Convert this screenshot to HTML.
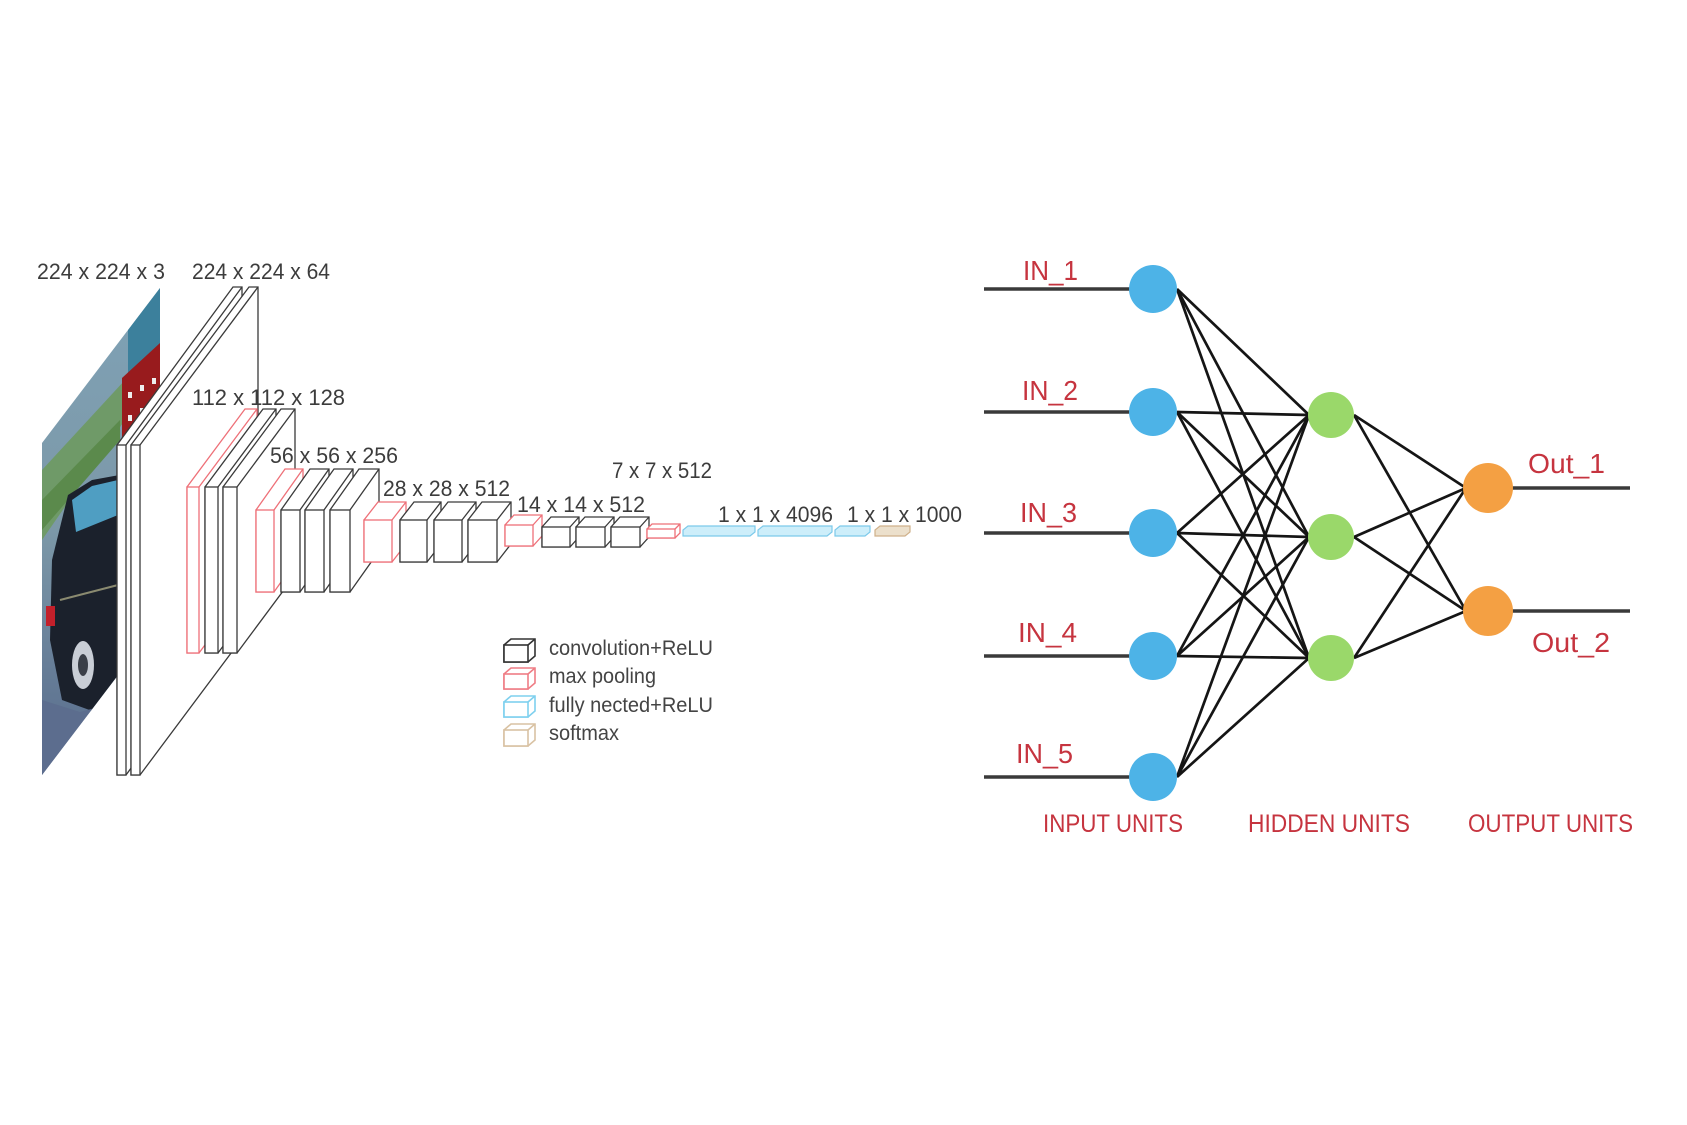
<!DOCTYPE html>
<html><head><meta charset="utf-8"><style>
html,body{margin:0;padding:0;background:#fff;}
svg{display:block;}
</style></head><body>
<svg width="1687" height="1125" viewBox="0 0 1687 1125" xmlns="http://www.w3.org/2000/svg">
<defs>
<linearGradient id="bg" x1="0" y1="0" x2="0" y2="1">
<stop offset="0" stop-color="#7fa2b6"/><stop offset="0.5" stop-color="#7c98a8"/><stop offset="1" stop-color="#55688a"/>
</linearGradient>
<clipPath id="pc"><polygon points="42,443 160,288 160,620 42,775"/></clipPath>
</defs>
<rect width="1687" height="1125" fill="#fff"/>

<!-- car image panel -->
<g clip-path="url(#pc)">
<rect x="40" y="280" width="125" height="500" fill="url(#bg)"/>
<polygon points="128,310 160,280 160,350 128,385" fill="#3c809c"/>
<polygon points="42,470 125,380 125,420 42,540" fill="#6f9a68"/>
<polygon points="42,500 120,420 120,440 42,530" fill="#5b8a4c"/>
<polygon points="122,378 160,343 160,437 122,447" fill="#981b1d"/>
<rect x="128" y="392" width="4" height="6" fill="#eee"/><rect x="140" y="385" width="4" height="6" fill="#eee"/><rect x="152" y="378" width="4" height="6" fill="#eee"/>
<rect x="128" y="415" width="4" height="6" fill="#eee"/><rect x="140" y="408" width="4" height="6" fill="#eee"/><rect x="152" y="402" width="4" height="6" fill="#eee"/>
<polygon points="52,560 68,495 92,480 125,474 125,700 95,712 62,700 50,640" fill="#1b212c"/>
<polygon points="72,500 92,486 118,480 118,515 76,532" fill="#4f9ec2"/>
<line x1="60" y1="600" x2="118" y2="585" stroke="#8a8a70" stroke-width="2"/>
<ellipse cx="83" cy="665" rx="11" ry="24" fill="#c9ced6"/>
<ellipse cx="83" cy="665" rx="5" ry="11" fill="#3a3f48"/>
<rect x="46" y="606" width="9" height="20" fill="#c3202b"/>
<polygon points="42,700 80,712 125,700 125,780 42,780" fill="#5c6d8e"/>
</g>

<g fill="#fff" stroke="#3a3a3a" stroke-width="1.3" stroke-linejoin="miter">
<!-- 224 slabs -->
<polygon points="117,775 117,445 233,287 242,287 242,617 126,775"/>
<rect x="117" y="445" width="9" height="330"/><line x1="126" y1="445" x2="242" y2="287"/>
<polygon points="131,775 131,445 249,287 258,287 258,617 140,775"/>
<rect x="131" y="445" width="9" height="330"/><line x1="140" y1="445" x2="258" y2="287"/>
<line x1="258" y1="617" x2="290" y2="574"/>
</g>

<!-- 112 group -->
<g fill="#fff" stroke-width="1.3">
<g stroke="#ee7078">
<polygon points="187,653 187,487 245,409 257,409 257,575 199,653"/>
<rect x="187" y="487" width="12" height="166"/><line x1="199" y1="487" x2="257" y2="409"/>
</g>
<g stroke="#3a3a3a">
<polygon points="205,653 205,487 263,409 276,409 276,575 218,653"/>
<rect x="205" y="487" width="13" height="166"/><line x1="218" y1="487" x2="276" y2="409"/>
<polygon points="223,653 223,487 281,409 295,409 295,575 237,653"/>
<rect x="223" y="487" width="14" height="166"/><line x1="237" y1="487" x2="295" y2="409"/>
<line x1="295" y1="575" x2="318" y2="545"/>
</g>

<!-- 56 group -->
<g stroke="#ee7078">
<polygon points="256,592 256,510 285,469 303,469 303,551 274,592"/>
<rect x="256" y="510" width="18" height="82"/><line x1="274" y1="510" x2="303" y2="469"/>
</g>
<g stroke="#3a3a3a">
<polygon points="281,592 281,510 310,469 329,469 329,551 300,592"/>
<rect x="281" y="510" width="19" height="82"/><line x1="300" y1="510" x2="329" y2="469"/>
<polygon points="305,592 305,510 334,469 353,469 353,551 324,592"/>
<rect x="305" y="510" width="19" height="82"/><line x1="324" y1="510" x2="353" y2="469"/>
<polygon points="330,592 330,510 359,469 379,469 379,551 350,592"/>
<rect x="330" y="510" width="20" height="82"/><line x1="350" y1="510" x2="379" y2="469"/>
<line x1="379" y1="551" x2="392" y2="533"/>
</g>

<!-- 28 group -->
<g stroke="#ee7078">
<polygon points="364,562 364,520 378,502 406,502 406,544 392,562"/>
<rect x="364" y="520" width="28" height="42"/><line x1="392" y1="520" x2="406" y2="502"/>
</g>
<g stroke="#3a3a3a">
<polygon points="400,562 400,520 414,502 441,502 441,544 427,562"/>
<rect x="400" y="520" width="27" height="42"/><line x1="427" y1="520" x2="441" y2="502"/>
<polygon points="434,562 434,520 448,502 476,502 476,544 462,562"/>
<rect x="434" y="520" width="28" height="42"/><line x1="462" y1="520" x2="476" y2="502"/>
<polygon points="468,562 468,520 482,502 511,502 511,544 497,562"/>
<rect x="468" y="520" width="29" height="42"/><line x1="497" y1="520" x2="511" y2="502"/>
</g>

<!-- 14 group -->
<g stroke="#ee7078">
<polygon points="505,546 505,525 514,515 542,515 542,536 533,546"/>
<rect x="505" y="525" width="28" height="21"/><line x1="533" y1="525" x2="542" y2="515"/>
</g>
<g stroke="#3a3a3a">
<polygon points="542,547 542,527 551,517 579,517 579,537 570,547"/>
<rect x="542" y="527" width="28" height="20"/><line x1="570" y1="527" x2="579" y2="517"/>
<polygon points="576,547 576,527 585,517 614,517 614,537 605,547"/>
<rect x="576" y="527" width="29" height="20"/><line x1="605" y1="527" x2="614" y2="517"/>
<polygon points="611,547 611,527 620,517 649,517 649,537 640,547"/>
<rect x="611" y="527" width="29" height="20"/><line x1="640" y1="527" x2="649" y2="517"/>
</g>

<!-- 7 -->
<g stroke="#ee7078">
<polygon points="647,538 647,529 652,524 680,524 680,533 675,538"/>
<rect x="647" y="529" width="28" height="9"/><line x1="675" y1="529" x2="680" y2="524"/>
</g>
</g>

<!-- FC bars -->
<g stroke-width="1.2">
<polygon points="683,536 683,530 688,526 755,526 755,532 750,536" fill="#cdeefa" stroke="#7cc9ea"/>
<polygon points="758,536 758,530 763,526 832,526 832,532 827,536" fill="#cdeefa" stroke="#7cc9ea"/>
<polygon points="835,536 835,530 840,526 870,526 870,532 865,536" fill="#cdeefa" stroke="#7cc9ea"/>
<polygon points="875,536 875,530 880,526 910,526 910,532 905,536" fill="#ece0cc" stroke="#cfb08a"/>
</g>

<!-- CNN labels -->
<g font-family="Liberation Sans, Arial, sans-serif" font-size="22" fill="#3c3c3c">
<text x="37" y="279" textLength="128" lengthAdjust="spacingAndGlyphs">224 x 224 x 3</text>
<text x="192" y="279" textLength="138" lengthAdjust="spacingAndGlyphs">224 x 224 x 64</text>
<text x="192" y="405" textLength="153" lengthAdjust="spacingAndGlyphs">112 x 112 x 128</text>
<text x="270" y="463" textLength="128" lengthAdjust="spacingAndGlyphs">56 x 56 x 256</text>
<text x="383" y="496" textLength="127" lengthAdjust="spacingAndGlyphs">28 x 28 x 512</text>
<text x="517" y="512" textLength="128" lengthAdjust="spacingAndGlyphs">14 x 14 x 512</text>
<text x="612" y="478" textLength="100" lengthAdjust="spacingAndGlyphs">7 x 7 x 512</text>
<text x="718" y="522" textLength="115" lengthAdjust="spacingAndGlyphs">1 x 1 x 4096</text>
<text x="847" y="522" textLength="115" lengthAdjust="spacingAndGlyphs">1 x 1 x 1000</text>
</g>

<!-- legend -->
<g fill="#fff" stroke-width="1.6">
<g stroke="#333"><polygon points="504,662 504,645 511,639 535,639 535,656 528,662"/><rect x="504" y="645" width="24" height="17"/><line x1="528" y1="645" x2="535" y2="639"/></g>
<g stroke="#ef7d85"><polygon points="504,689 504,674 511,668 535,668 535,683 528,689"/><rect x="504" y="674" width="24" height="15"/><line x1="528" y1="674" x2="535" y2="668"/></g>
<g stroke="#7fd0ee"><polygon points="504,717 504,702 511,696 535,696 535,711 528,717"/><rect x="504" y="702" width="24" height="15"/><line x1="528" y1="702" x2="535" y2="696"/></g>
<g stroke="#d9c2a3"><polygon points="504,746 504,730 511,724 535,724 535,740 528,746"/><rect x="504" y="730" width="24" height="16"/><line x1="528" y1="730" x2="535" y2="724"/></g>
</g>
<g font-family="Liberation Sans, Arial, sans-serif" font-size="21" fill="#444">
<text x="549" y="655" textLength="164" lengthAdjust="spacingAndGlyphs">convolution+ReLU</text>
<text x="549" y="683" textLength="107" lengthAdjust="spacingAndGlyphs">max pooling</text>
<text x="549" y="712" textLength="164" lengthAdjust="spacingAndGlyphs">fully nected+ReLU</text>
<text x="549" y="740" textLength="70" lengthAdjust="spacingAndGlyphs">softmax</text>
</g>

<!-- network: input/output lines -->
<g stroke="#3a3a3a" stroke-width="3.5">
<line x1="984" y1="289" x2="1135" y2="289"/>
<line x1="984" y1="412" x2="1135" y2="412"/>
<line x1="984" y1="533" x2="1135" y2="533"/>
<line x1="984" y1="656" x2="1135" y2="656"/>
<line x1="984" y1="777" x2="1135" y2="777"/>
<line x1="1510" y1="488" x2="1630" y2="488"/>
<line x1="1510" y1="611" x2="1630" y2="611"/>
</g>
<!-- connections -->
<g stroke="#151515" stroke-width="2.7">
<line x1="1177" y1="289" x2="1309" y2="415"/><line x1="1177" y1="289" x2="1309" y2="537"/><line x1="1177" y1="289" x2="1309" y2="658"/>
<line x1="1177" y1="412" x2="1309" y2="415"/><line x1="1177" y1="412" x2="1309" y2="537"/><line x1="1177" y1="412" x2="1309" y2="658"/>
<line x1="1177" y1="533" x2="1309" y2="415"/><line x1="1177" y1="533" x2="1309" y2="537"/><line x1="1177" y1="533" x2="1309" y2="658"/>
<line x1="1177" y1="656" x2="1309" y2="415"/><line x1="1177" y1="656" x2="1309" y2="537"/><line x1="1177" y1="656" x2="1309" y2="658"/>
<line x1="1177" y1="777" x2="1309" y2="415"/><line x1="1177" y1="777" x2="1309" y2="537"/><line x1="1177" y1="777" x2="1309" y2="658"/>
<line x1="1354" y1="415" x2="1466" y2="488"/><line x1="1354" y1="415" x2="1466" y2="611"/>
<line x1="1354" y1="537" x2="1466" y2="488"/><line x1="1354" y1="537" x2="1466" y2="611"/>
<line x1="1354" y1="658" x2="1466" y2="488"/><line x1="1354" y1="658" x2="1466" y2="611"/>
</g>
<!-- nodes -->
<g fill="#4db3e7">
<circle cx="1153" cy="289" r="24"/><circle cx="1153" cy="412" r="24"/><circle cx="1153" cy="533" r="24"/><circle cx="1153" cy="656" r="24"/><circle cx="1153" cy="777" r="24"/>
</g>
<g fill="#9ad86a">
<circle cx="1331" cy="415" r="23"/><circle cx="1331" cy="537" r="23"/><circle cx="1331" cy="658" r="23"/>
</g>
<g fill="#f4a043">
<circle cx="1488" cy="488" r="25"/><circle cx="1488" cy="611" r="25"/>
</g>
<!-- network labels -->
<g font-family="Liberation Sans, Arial, sans-serif" font-size="28" fill="#c6343f">
<text x="1023" y="280" textLength="55" lengthAdjust="spacingAndGlyphs">IN_1</text>
<text x="1022" y="400" textLength="56" lengthAdjust="spacingAndGlyphs">IN_2</text>
<text x="1020" y="522" textLength="57" lengthAdjust="spacingAndGlyphs">IN_3</text>
<text x="1018" y="642" textLength="59" lengthAdjust="spacingAndGlyphs">IN_4</text>
<text x="1016" y="763" textLength="57" lengthAdjust="spacingAndGlyphs">IN_5</text>
<text x="1528" y="473" textLength="77" lengthAdjust="spacingAndGlyphs">Out_1</text>
<text x="1532" y="652" textLength="78" lengthAdjust="spacingAndGlyphs">Out_2</text>
</g>
<g font-family="Liberation Sans, Arial, sans-serif" font-size="25" fill="#c6343f">
<text x="1043" y="832" textLength="140" lengthAdjust="spacingAndGlyphs">INPUT UNITS</text>
<text x="1248" y="832" textLength="162" lengthAdjust="spacingAndGlyphs">HIDDEN UNITS</text>
<text x="1468" y="832" textLength="165" lengthAdjust="spacingAndGlyphs">OUTPUT UNITS</text>
</g>
</svg>
</body></html>
